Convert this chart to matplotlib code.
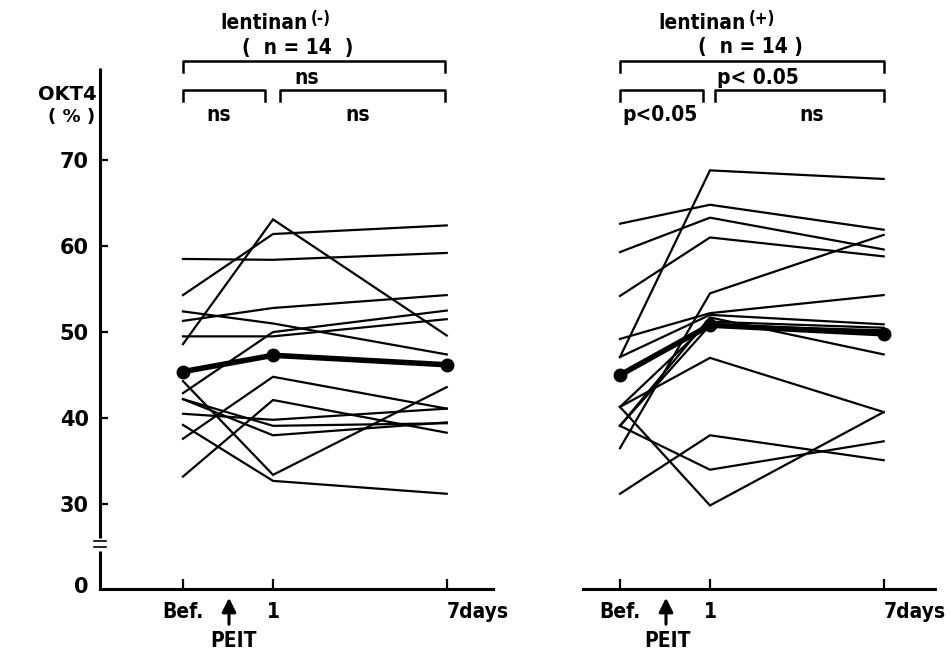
import numpy as np
import matplotlib
matplotlib.use("Agg")
import matplotlib.pyplot as plt
from matplotlib.lines import Line2D
from matplotlib import font_manager

# ---------------- data ----------------
days = ["Bef.", "1", "7days"]
day_pos = [0, 1, 2.93]

# lentinan (-) individual patients: values at Bef., day 1, day 7
neg_bef = [58.5, 54.3, 48.6, 52.4, 51.3, 49.5, 42.9, 44.3, 39.2, 42.2, 40.5, 37.6, 33.2, 42.2]
neg_d1  = [58.4, 61.4, 63.1, 51.0, 52.8, 49.5, 50.0, 33.4, 32.7, 38.0, 39.8, 44.8, 42.1, 39.1]
neg_d7  = [59.2, 62.4, 49.6, 47.4, 54.3, 51.5, 52.5, 43.6, 31.2, 39.5, 41.1, 41.1, 38.3, 39.4]
neg_mean = [45.4, 47.3, 46.2]

# lentinan (+) individual patients
pos_bef = [62.6, 59.3, 54.2, 47.1, 49.2, 47.1, 36.5, 39.1, 41.3, 39.1, 31.2, 41.3, 41.3, 39.1]
pos_d1  = [64.8, 63.3, 61.0, 68.8, 52.2, 52.0, 54.5, 51.7, 29.5, 34.0, 38.0, 47.0, 51.2, 50.8]
pos_d7  = [61.9, 59.6, 58.8, 67.8, 54.3, 50.9, 61.3, 47.4, 40.7, 37.3, 35.1, 40.7, 50.5, 50.2]
pos_mean = [45.0, 50.8, 49.8]

yticks = [0, 30, 40, 50, 60, 70]

# ---------------- style ----------------
names = {f.name for f in font_manager.fontManager.ttflist}
NARROW_FAMILY = 'Liberation Sans Narrow' if 'Liberation Sans Narrow' in names else 'DejaVu Sans'
COND = dict(family=NARROW_FAMILY, fontstretch='condensed', fontweight='bold')

W, H = 950, 652
fig = plt.figure(figsize=(W / 100, H / 100), dpi=100)

def fx(px):
    return px / W

def fy(py):
    return 1 - py / H

K = 9.4 / 30.0
def fwd(v):
    v = np.asarray(v, dtype=float)
    return np.where(v >= 30, v, 30 - (30 - v) * K)

def inv(u):
    u = np.asarray(u, dtype=float)
    return np.where(u >= 30, u, 30 - (30 - u) / K)

bottom_px, top_px = 589, 68
axL = fig.add_axes([fx(100), fy(bottom_px), (493 - 100) / W, (bottom_px - top_px) / H])
axR = fig.add_axes([fx(583), fy(bottom_px), (935 - 583) / W, (bottom_px - top_px) / H], sharey=axL)

axL.set_yscale('function', functions=(fwd, inv))
axL.set_ylim(-1.5, 80.7)
axL.set_xlim(-0.922, 3.444)
axR.set_xlim(-0.411, 3.5)

def draw_panel(ax, bef, d1, d7, mean):
    for a, b, c in zip(bef, d1, d7):
        ax.plot(day_pos, [a, b, c], color='black', lw=1.6, solid_joinstyle='miter')
    ax.plot(day_pos, mean, color='black', lw=4.0, marker='o', ms=9, zorder=5)

draw_panel(axL, neg_bef, neg_d1, neg_d7, neg_mean)
draw_panel(axR, pos_bef, pos_d1, pos_d7, pos_mean)

for ax in (axL, axR):
    for s in ('top', 'right', 'left'):
        ax.spines[s].set_visible(False)
    ax.spines['bottom'].set_linewidth(2.2)
    ax.set_xticks(day_pos)
    ax.set_xticklabels(days, fontsize=15, **COND)
    ax.tick_params(axis='x', direction='in', length=7, width=1.6, pad=9)
    lab = ax.get_xticklabels()[-1]
    lab.set_ha('left')
    ax.patch.set_visible(False)

# y axis of left panel
axL.set_yticks(yticks)
axL.set_yticklabels([str(t) for t in yticks], fontsize=15, fontweight='bold')
axL.tick_params(axis='y', direction='in', length=6, width=1.6, pad=8)
axL.yaxis.get_major_ticks()[0].tick1line.set_visible(False)
axR.tick_params(axis='y', left=False, labelleft=False)

# left spine drawn with a break
tr = axL.get_yaxis_transform()
axL.plot([0, 0], [-1.5, 12.7], transform=tr, color='black', lw=2.2, clip_on=False, solid_capstyle='butt')
axL.plot([0, 0], [17.5, 80.7], transform=tr, color='black', lw=2.2, clip_on=False, solid_capstyle='butt')
for yb in (14.2, 16.2):
    axL.plot([-0.015, 0.015], [yb, yb], transform=tr, color='black', lw=1.2, clip_on=False)

# ---------------- annotations ----------------
def ftext(px, py, s, size=15, ha='center'):
    fig.text(fx(px), fy(py), s, fontsize=size, ha=ha, va='center', **COND)

def bracket(x0, x1, ytop, ybot):
    fig.add_artist(Line2D([fx(x0), fx(x0), fx(x1), fx(x1)],
                          [fy(ybot), fy(ytop), fy(ytop), fy(ybot)],
                          color='black', lw=1.8, transform=fig.transFigure))

# left panel header
ftext(308, 23, "lentinan", 15, ha='right')
ftext(311, 19, "(-)", 12, ha='left')
ftext(298, 48, "(  n = 14  )", 15)
bracket(183, 445, 61, 72)
ftext(307, 78, "ns", 15)
bracket(183, 265, 90, 101)
bracket(280, 445, 90, 101)
ftext(219, 115, "ns", 15)
ftext(358, 115, "ns", 15)

# right panel header
ftext(746, 23, "lentinan", 15, ha='right')
ftext(749, 19, "(+)", 12, ha='left')
ftext(750, 47, "(  n = 14 )", 15)
bracket(620, 884, 61, 72)
ftext(758, 78, "p< 0.05", 15)
bracket(620, 703, 90, 101)
bracket(715, 884, 90, 101)
ftext(660, 115, "p<0.05", 15)
ftext(812, 115, "ns", 15)

# y label
fig.text(fx(67), fy(95), "OKT4", fontsize=14, fontweight='bold', ha='center', va='center')
fig.text(fx(72), fy(117), "( % )", fontsize=13, fontweight='bold', ha='center', va='center')

# PEIT arrows
for xa, xt in ((229, 233), (666, 668)):
    fig.add_artist(matplotlib.patches.FancyArrowPatch(
        (fx(xa), fy(627)), (fx(xa), fy(595)), transform=fig.transFigure,
        arrowstyle='-|>,head_length=0.6,head_width=0.3', color='black', lw=2.2,
        mutation_scale=14))
    ftext(xt, 641, "PEIT", 15)

fig.savefig("out.png", dpi=100, facecolor='white')
